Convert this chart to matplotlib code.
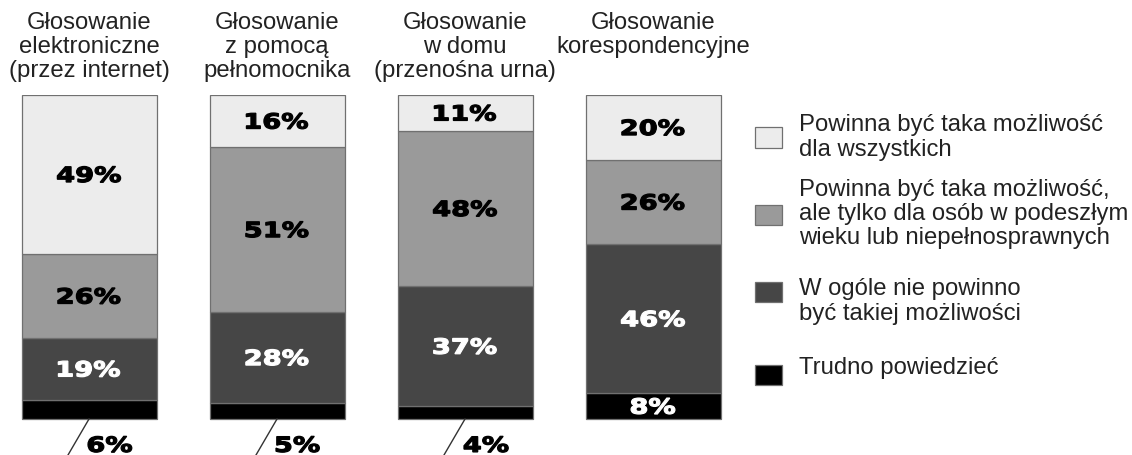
import numpy as np
import matplotlib
matplotlib.use("Agg")
import matplotlib.pyplot as plt
from matplotlib.patches import Rectangle, PathPatch
from matplotlib.textpath import TextPath
from matplotlib.font_manager import FontProperties
from matplotlib.transforms import blended_transform_factory, Affine2D, ScaledTranslation

plt.rcParams['font.family'] = ['Liberation Sans', 'DejaVu Sans']

titles = ["Głosowanie\nelektroniczne\n(przez internet)",
          "Głosowanie\nz pomocą\npełnomocnika",
          "Głosowanie\nw domu\n(przenośna urna)",
          "Głosowanie\nkorespondencyjne\n "]
legend_labels = ["Powinna być taka możliwość\ndla wszystkich",
                 "Powinna być taka możliwość,\nale tylko dla osób w podeszłym\nwieku lub niepełnosprawnych",
                 "W ogóle nie powinno\nbyć takiej możliwości",
                 "Trudno powiedzieć"]
# stacked from the bottom: trudno, nie, tylko dla osób, dla wszystkich
trudno = [6, 5, 4, 8]
nie = [19, 28, 37, 46]
czesc = [26, 51, 48, 26]
wszyscy = [49, 16, 11, 20]

colors = ['#ececec', '#9a9a9a', '#464646', '#000000']
text_colors = ['black', 'black', 'white', 'white']

fig = plt.figure(figsize=(11.32, 4.56), dpi=100)
# axes spans x pixels 0..740, y from figure bottom up to bar tops
ax = fig.add_axes([0, 0, 740 / 1132, 360 / 456])
ax.set_xlim(-89 / 188, (740 - 89) / 188)
ax.set_ylim(-36 / 3.24, 100)
ax.axis('off')

bold = FontProperties(family='DejaVu Sans', weight='bold')


def pct_label(x, y, s, color, ha='center'):
    # wide heavy look of the original: bold glyphs stretched sideways
    tp = TextPath((0, 0), s, size=21, prop=bold)
    bb = tp.get_extents()
    x0 = (bb.x0 + bb.x1) / 2 if ha == 'center' else bb.x0
    tr = (Affine2D().translate(-x0, -(bb.y0 + bb.y1) / 2).scale(1.3, 1)
          + ScaledTranslation(x, y, ax.transData))
    ax.add_patch(PathPatch(tp, transform=tr, facecolor=color, edgecolor=color,
                           linewidth=0.9, clip_on=False))


x = np.arange(4)
width = 135 / 188
series = [trudno, nie, czesc, wszyscy]
fills = [colors[3], colors[2], colors[1], colors[0]]
tcols = [text_colors[3], text_colors[2], text_colors[1], text_colors[0]]
bottom = np.zeros(4)
for vals, col, tc in zip(series, fills, tcols):
    vals = np.array(vals, dtype=float)
    ax.bar(x, vals, width, bottom=bottom, color=col, edgecolor='#707070', linewidth=0.9)
    for i in range(4):
        if vals[i] >= 8:
            pct_label(x[i], bottom[i] + vals[i] / 2, f"{int(vals[i])}%", tc)
    bottom += vals

# small values below the bars with a leader line
for i in range(4):
    if trudno[i] < 8:
        ax.plot([x[i], x[i] - 21 / 188], [0, -36 / 3.24], color='#333333', lw=1, clip_on=False)
        pct_label(x[i] - 1 / 188, -7.8, f"{trudno[i]}%", 'black', ha='left')

trans = blended_transform_factory(ax.transData, fig.transFigure)
for i, t in enumerate(titles):
    ax.text(x[i], 1 - 47 / 456, t, transform=trans, ha='center', va='center',
            fontsize=17.2, linespacing=1.14, color='#222222')

# legend
handle_y = [138.5, 216, 293, 375.5]
text_y = [137.5, 214, 301.5, 368]
for col, hy, ty, lab in zip(colors, handle_y, text_y, legend_labels):
    fig.patches.append(Rectangle((755 / 1132, 1 - (hy + 10) / 456), 27 / 1132, 20 / 456,
                                 transform=fig.transFigure, facecolor=col,
                                 edgecolor='#707070', linewidth=0.9))
    fig.text(799 / 1132, 1 - ty / 456, lab, ha='left', va='center', fontsize=17.2,
             linespacing=1.14, color='#222222')

fig.savefig('out.png', dpi=100)
